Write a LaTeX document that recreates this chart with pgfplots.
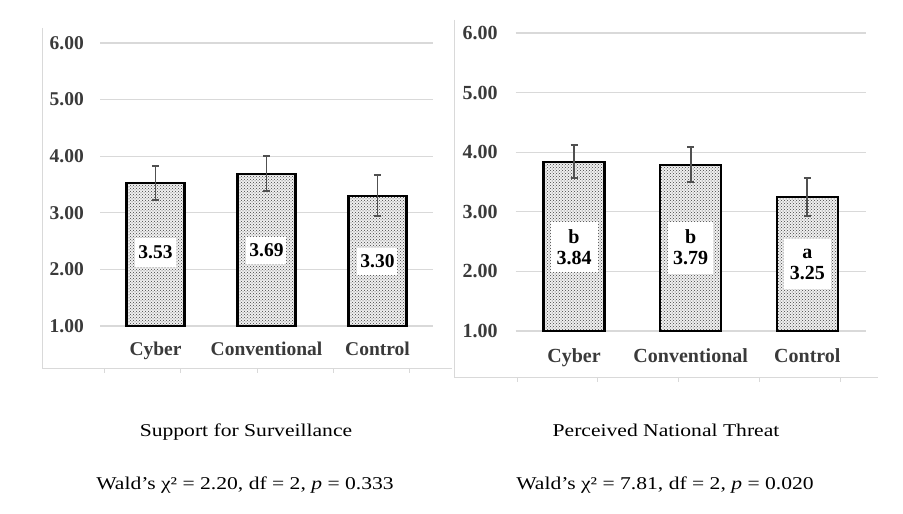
\documentclass[border=0pt]{standalone}
\usepackage{fontspec}
\setmainfont{Liberation Serif}
\newfontfamily\palfont[FakeStretch=1.2]{Liberation Serif}
\usepackage{pgfplots}
\pgfplotsset{compat=1.18}
\usetikzlibrary{patterns}
\definecolor{gridc}{HTML}{D9D9D9}
\definecolor{labc}{HTML}{3A3A3A}
\definecolor{errc}{HTML}{505050}
\pgfplotsset{
  panel/.style={
    scale only axis, anchor=south west,
    xmin=-0.5, xmax=2.5, ymin=1, ymax=6,
    axis line style={draw=none}, tick style={draw=none},
    ymajorgrids, grid style={gridc, line width=1.2pt},
    ytick={1,2,3,4,5,6},
    yticklabels={1.00,2.00,3.00,4.00,5.00,6.00},
    xtick={0,1,2},
    xticklabels={Cyber,Conventional,Control},
    tick label style={text=labc, inner sep=0pt},
    clip=false,
  },
  bars/.style={
    ybar, draw=black, line width=2.4pt, fill=gray!12,
    postaction={pattern=crosshatch dots, pattern color=black!75},
    error bars/.cd, y dir=both, y explicit,
    error bar style={errc, line width=1.9pt},
    error mark options={errc, rotate=90, mark size=3.5pt, line width=1.9pt},
  },
}
\begin{document}
\begin{tikzpicture}[x=1pt,y=1pt]
\useasboundingbox (0,0) rectangle (903,514);
% panel frames
\draw[gridc, line width=1pt] (42,486) -- (42,145) -- (452,145);
\foreach \xx in {104,180,257,333,409} \draw[gridc, line width=0.8pt] (\xx,145) -- (\xx,141);
\draw[gridc, line width=1pt] (454,494) -- (454,136) -- (878,136);
\foreach \xx in {517,597,678,759,840} \draw[gridc, line width=0.8pt] (\xx,136) -- (\xx,132);

% left panel
\begin{axis}[panel, at={(100pt,188pt)}, width=333pt, height=283pt,
  yticklabel style={font=\fontsize{19.5}{21}\selectfont\bfseries, anchor=east, xshift=-16pt},
  xticklabel style={font=\fontsize{19.5}{21}\selectfont\bfseries, anchor=north, yshift=-16pt}]
\addplot[bar width=58pt, bars] coordinates {
  (0,3.53) +- (0,0.30)
  (1,3.69) +- (0,0.31)
  (2,3.30) +- (0,0.36)
};
\node[fill=white, inner sep=0pt, minimum width=40pt, minimum height=29pt, font=\fontsize{19.5}{21}\selectfont\bfseries] at (axis cs:0,2.30) {3.53};
\node[fill=white, inner sep=0pt, minimum width=40pt, minimum height=27pt, font=\fontsize{19.5}{21}\selectfont\bfseries] at (axis cs:1,2.34) {3.69};
\node[fill=white, inner sep=0pt, minimum width=40pt, minimum height=27pt, font=\fontsize{19.5}{21}\selectfont\bfseries] at (axis cs:2,2.14) {3.30};
\end{axis}

% right panel
\begin{axis}[panel, at={(515.7pt,183pt)}, width=350pt, height=298pt,
  yticklabel style={font=\fontsize{20}{21}\selectfont\bfseries, anchor=east, xshift=-18pt},
  xticklabel style={font=\fontsize{20}{21}\selectfont\bfseries, anchor=north, yshift=-17pt}]
\addplot[bar width=61pt, bars] coordinates {
  (0,3.84) +- (0,0.28)
  (1,3.79) +- (0,0.29)
  (2,3.25) +- (0,0.32)
};
\node[fill=white, inner sep=0pt, minimum width=47pt, minimum height=50pt, align=center, font=\fontsize{20}{21}\selectfont\bfseries] at (axis cs:0,2.41) {b\\3.84};
\node[fill=white, inner sep=0pt, minimum width=45pt, minimum height=52pt, align=center, font=\fontsize{20}{21}\selectfont\bfseries] at (axis cs:1,2.40) {b\\3.79};
\node[fill=white, inner sep=0pt, minimum width=47pt, minimum height=50pt, align=center, font=\fontsize{20}{21}\selectfont\bfseries] at (axis cs:2,2.12) {a\\3.25};
\end{axis}

% captions
\node[anchor=base, font=\palfont\fontsize{18}{20}\selectfont] at (246,77) {Support for Surveillance};
\node[anchor=base, font=\palfont\fontsize{18}{20}\selectfont] at (245,24) {Wald’s χ² = 2.20, df = 2, \textit{p} = 0.333};
\node[anchor=base, font=\palfont\fontsize{18}{20}\selectfont] at (666,77) {Perceived National Threat};
\node[anchor=base, font=\palfont\fontsize{18}{20}\selectfont] at (665,24) {Wald’s χ² = 7.81, df = 2, \textit{p} = 0.020};
\end{tikzpicture}
\end{document}
